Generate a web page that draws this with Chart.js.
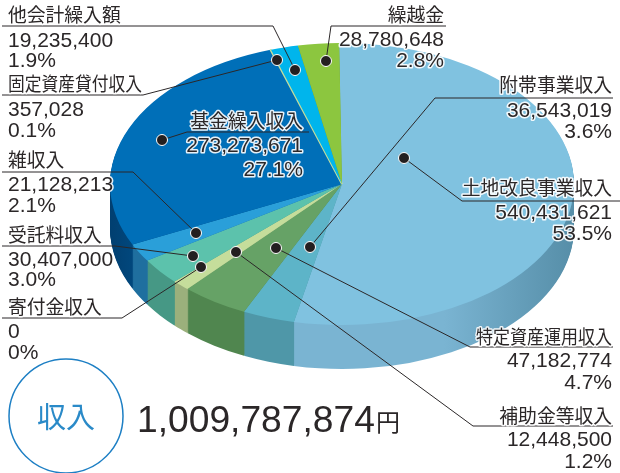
<!DOCTYPE html>
<html lang="ja">
<head>
<meta charset="utf-8">
<script src="https://cdn.jsdelivr.net/npm/chart.js@4/dist/chart.umd.min.js"></script>
<style>
  html, body { margin: 0; padding: 0; background: #fff; }
  canvas { display: block; }
</style>
</head>
<body>
<canvas id="pie" width="620" height="473"></canvas>
<script>
// データ
const categories = ['土地改良事業収入', '附帯事業収入', '特定資産運用収入', '補助金等収入', '寄付金収入',
    '受託料収入', '雑収入', '基金繰入収入', '固定資産貸付収入', '他会計繰入額', '繰越金'];
const amounts = [540431621, 36543019, 47182774, 12448500, 0, 30407000, 21128213, 273273671, 357028, 19235400, 28780648];
const percents = ['53.5%', '3.6%', '4.7%', '1.2%', '0%', '3.0%', '2.1%', '27.1%', '0.1%', '1.9%', '2.8%'];
const totalLabel = '1,009,787,874';

const topColors = ['#80c2e0', '#5db4c8', '#66a266', '#c5dd9b', '#c5dd9b', '#5cc2ac', '#2a9fd9', '#006fb8', '#c5dd9b', '#00b5ec', '#8cc63f'];
// 固定資産貸付収入は細すぎるので線で見せる
const sliceBorders = [0, 0, 0, 0, 0, 0, 0, 0, 2, 0, 0];
// 側面の色 (左端から右端へのグラデーション)
const wallColors = [
    [[0, '#7ab4d2'], [0.72, '#7ab4d2'], [1, '#568ea8']],
    [[0, '#4f97a8'], [1, '#4f97a8']],
    [[0, '#50864f'], [1, '#50864f']],
    [[0, '#9bb07c'], [1, '#9bb07c']],
    [[0, '#9bb07c'], [1, '#9bb07c']],
    [[0, '#469885'], [1, '#469885']],
    [[0, '#1f6f9f'], [1, '#1f6f9f']],
    [[0, '#013f70'], [0.1, '#01508a'], [1, '#01508a']],
    [[0, '#9bb07c'], [1, '#9bb07c']],
    [[0, '#0088b0'], [1, '#0088b0']],
    [[0, '#6a9a30'], [1, '#6a9a30']]
];

// 楕円の形
const squash = 141 / 232;
const centerY = 184;
const depth = 44;

// 引き出し線とラベルの配置: x, 基準線y(項目,金額,割合), 揃え, 線の折れ点, 点
const callouts = [
    { i: 9, x: 8, ys: [22, 47, 67], align: 'left', line: [[2, 26], [273, 26], [295, 70]] },
    { i: 8, x: 8, ys: [91, 116, 137], align: 'left', squeeze: 134, line: [[2, 95], [143, 95], [277, 60]] },
    { i: 6, x: 8, ys: [167, 191, 212], align: 'left', line: [[2, 172], [133, 172], [196, 233]] },
    { i: 5, x: 8, ys: [242, 266, 286], align: 'left', line: [[2, 246], [115, 246], [193, 256]] },
    { i: 4, x: 8, ys: [314, 338, 359], align: 'left', line: [[2, 318], [122, 318], [201, 267]] },
    { i: 10, x: 444, ys: [22, 46, 67], align: 'right', line: [[446, 26], [331, 26], [326, 61]] },
    { i: 1, x: 612, ys: [92, 117, 138], align: 'right', line: [[613, 98], [435, 98], [310, 247]] },
    { i: 0, x: 612, ys: [195, 219, 240], align: 'right', line: [[620, 201], [462, 201], [404, 158]] },
    { i: 2, x: 612, ys: [344, 367, 389], align: 'right', squeeze: 136, line: [[613, 347], [470, 347], [276, 248]] },
    { i: 3, x: 612, ys: [423, 446, 468], align: 'right', line: [[613, 426], [473, 426], [236, 252]] },
    { i: 7, x: 303, ys: [128, 152, 176], align: 'right', line: [[309, 132], [187, 132], [162, 140]] }
];

const JP_FONT = '"Noto Sans CJK JP", "Noto Sans", sans-serif';
const NUM_FONT = '"Liberation Sans", Arial, sans-serif';
const INK = '#2b2728';

function haloText(ctx, text, x, y, maxWidth) {
    ctx.lineJoin = 'round';
    ctx.lineWidth = 3;
    ctx.strokeStyle = 'rgba(255,255,255,0.9)';
    ctx.fillStyle = INK;
    if (maxWidth) {
        ctx.strokeText(text, x, y, maxWidth);
        ctx.fillText(text, x, y, maxWidth);
    } else {
        ctx.strokeText(text, x, y);
        ctx.fillText(text, x, y);
    }
}

// 楕円に潰す変形
function applySquash(ctx, chart, dy) {
    const arc = chart.getDatasetMeta(0).data[0];
    ctx.translate(arc.x, centerY + dy);
    ctx.scale(1, squash);
    ctx.translate(-arc.x, -arc.y);
}

const pie3d = {
    id: 'pie3d',
    beforeDatasetDraw(chart) {
        const ctx = chart.ctx;
        const arcs = chart.getDatasetMeta(0).data;
        const left = arcs[0].x - arcs[0].outerRadius;
        const width = arcs[0].outerRadius * 2;

        // 側面: 下から順に重ねる
        for (let dy = depth; dy > 0; dy--) {
            ctx.save();
            applySquash(ctx, chart, dy);
            arcs.forEach((arc, i) => {
                if (amounts[i] === 0) return;
                const grad = ctx.createLinearGradient(left, 0, left + width, 0);
                wallColors[i].forEach(stop => grad.addColorStop(stop[0], stop[1]));
                const saved = arc.options;
                arc.options = Object.create(saved, { backgroundColor: { value: grad } });
                arc.draw(ctx);
                arc.options = saved;
            });
            ctx.restore();
        }
        ctx.save();
        applySquash(ctx, chart, 0);
    },
    afterDatasetDraw(chart) {
        chart.ctx.restore();
    },
    afterDraw(chart) {
        const ctx = chart.ctx;
        ctx.save();

        // 引き出し線
        ctx.strokeStyle = '#2b2728';
        ctx.lineWidth = 1;
        callouts.forEach(c => {
            ctx.beginPath();
            c.line.forEach((p, k) => k === 0 ? ctx.moveTo(p[0], p[1]) : ctx.lineTo(p[0], p[1]));
            ctx.stroke();
        });
        callouts.forEach(c => {
            const dot = c.line[c.line.length - 1];
            ctx.beginPath();
            ctx.arc(dot[0], dot[1], 5.5, 0, Math.PI * 2);
            ctx.fillStyle = '#231f20';
            ctx.fill();
            ctx.strokeStyle = '#fff';
            ctx.lineWidth = 1;
            ctx.stroke();
        });

        // ラベル
        ctx.textBaseline = 'alphabetic';
        callouts.forEach(c => {
            ctx.textAlign = c.align;
            ctx.font = '18.8px ' + JP_FONT;
            haloText(ctx, categories[c.i], c.x, c.ys[0], c.squeeze);
            ctx.font = '21px ' + NUM_FONT;
            haloText(ctx, amounts[c.i].toLocaleString('en-US'), c.x, c.ys[1]);
            haloText(ctx, percents[c.i], c.x, c.ys[2]);
        });

        // 収入の丸
        ctx.beginPath();
        ctx.arc(66, 416, 57, 0, Math.PI * 2);
        ctx.strokeStyle = '#1d7fc4';
        ctx.lineWidth = 1.5;
        ctx.stroke();
        ctx.fillStyle = '#2a8ac8';
        ctx.font = '29px ' + JP_FONT;
        ctx.textAlign = 'center';
        ctx.textBaseline = 'middle';
        ctx.fillText('収入', 66, 417);

        // 合計
        ctx.textBaseline = 'alphabetic';
        ctx.textAlign = 'left';
        ctx.fillStyle = INK;
        ctx.font = '37.2px ' + NUM_FONT;
        ctx.fillText(totalLabel, 137, 432);
        ctx.font = '24px ' + JP_FONT;
        ctx.fillText('円', 376, 431);
        ctx.restore();
    }
};

new Chart(document.getElementById('pie'), {
    type: 'pie',
    data: {
        labels: categories,
        datasets: [{
            data: amounts,
            backgroundColor: topColors,
            borderColor: topColors,
            borderWidth: sliceBorders,
            hoverBorderWidth: 0,
            clip: false
        }]
    },
    options: {
        responsive: false,
        animation: false,
        events: [],
        rotation: -0.7,
        layout: { padding: { left: 109, right: 45, top: 3, bottom: 4 } },
        plugins: {
            legend: { display: false },
            title: { display: false },
            tooltip: { enabled: false }
        }
    },
    plugins: [pie3d]
});
</script>
</body>
</html>
